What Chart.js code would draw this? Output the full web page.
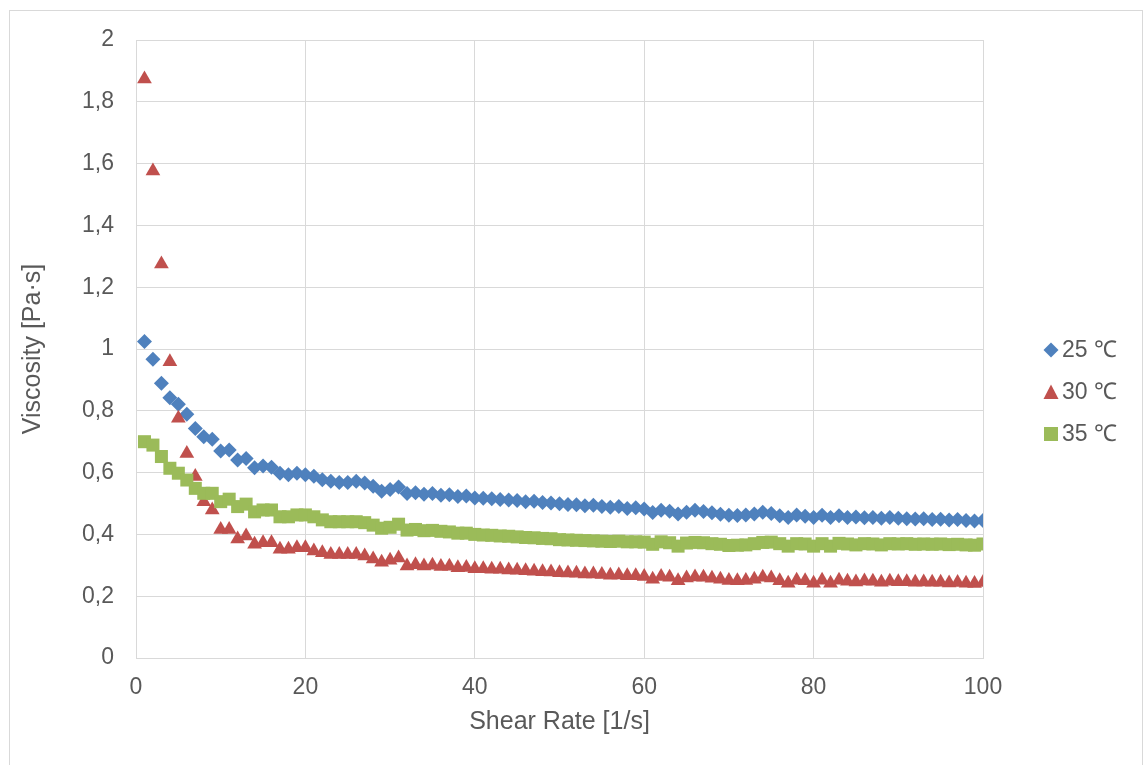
<!DOCTYPE html>
<html>
<head>
<meta charset="utf-8">
<script src="https://cdn.jsdelivr.net/npm/chart.js@4.4.0/dist/chart.umd.min.js"></script>
<style>
  html, body { margin: 0; padding: 0; background: #fff; }
  #wrap { position: relative; width: 1144px; height: 765px; }
</style>
</head>
<body>
<div id="wrap"><canvas id="myChart" width="1144" height="765"></canvas></div>
<script>
// Shear rate (x) values, 1/s
const shearRate = [
  1, 2, 3, 4, 5, 6, 7, 8, 9, 10,
  11, 12, 13, 14, 15, 16, 17, 18, 19, 20,
  21, 22, 23, 24, 25, 26, 27, 28, 29, 30,
  31, 32, 33, 34, 35, 36, 37, 38, 39, 40,
  41, 42, 43, 44, 45, 46, 47, 48, 49, 50,
  51, 52, 53, 54, 55, 56, 57, 58, 59, 60,
  61, 62, 63, 64, 65, 66, 67, 68, 69, 70,
  71, 72, 73, 74, 75, 76, 77, 78, 79, 80,
  81, 82, 83, 84, 85, 86, 87, 88, 89, 90,
  91, 92, 93, 94, 95, 96, 97, 98, 99, 100
];

// Viscosity, Pa·s
const visc25 = [
  1.024, 0.967, 0.889, 0.842, 0.821, 0.789, 0.743, 0.716, 0.708, 0.670,
  0.673, 0.641, 0.646, 0.616, 0.621, 0.617, 0.598, 0.593, 0.598, 0.593,
  0.588, 0.577, 0.572, 0.568, 0.568, 0.572, 0.566, 0.556, 0.540, 0.545,
  0.553, 0.532, 0.535, 0.530, 0.532, 0.527, 0.528, 0.523, 0.524, 0.518,
  0.517, 0.515, 0.513, 0.511, 0.510, 0.506, 0.507, 0.503, 0.502, 0.499,
  0.497, 0.496, 0.493, 0.494, 0.490, 0.488, 0.490, 0.484, 0.486, 0.482,
  0.471, 0.478, 0.475, 0.466, 0.472, 0.478, 0.474, 0.470, 0.465, 0.462,
  0.461, 0.463, 0.466, 0.472, 0.468, 0.460, 0.455, 0.463, 0.459, 0.455,
  0.462, 0.455, 0.460, 0.455, 0.456, 0.454, 0.455, 0.452, 0.455, 0.452,
  0.451, 0.450, 0.451, 0.448, 0.449, 0.447, 0.448, 0.445, 0.443, 0.445
];
const visc30 = [
  1.874, 1.576, 1.275, 0.959, 0.776, 0.662, 0.587, 0.506, 0.479, 0.416,
  0.416, 0.385, 0.395, 0.368, 0.373, 0.373, 0.352, 0.352, 0.357, 0.357,
  0.346, 0.341, 0.335, 0.335, 0.335, 0.335, 0.330, 0.320, 0.310, 0.316,
  0.324, 0.298, 0.302, 0.298, 0.300, 0.296, 0.297, 0.292, 0.293, 0.289,
  0.289, 0.287, 0.287, 0.285, 0.284, 0.282, 0.281, 0.279, 0.278, 0.276,
  0.275, 0.274, 0.272, 0.272, 0.270, 0.268, 0.269, 0.266, 0.266, 0.264,
  0.255, 0.264, 0.261, 0.250, 0.259, 0.262, 0.261, 0.258, 0.255, 0.251,
  0.250, 0.251, 0.255, 0.261, 0.259, 0.250, 0.242, 0.252, 0.250, 0.242,
  0.252, 0.242, 0.252, 0.248, 0.246, 0.249, 0.248, 0.245, 0.248, 0.247,
  0.247, 0.245, 0.246, 0.245, 0.245, 0.243, 0.244, 0.242, 0.241, 0.244
];
const visc35 = [
  0.700, 0.689, 0.652, 0.614, 0.598, 0.576, 0.549, 0.533, 0.533, 0.506,
  0.514, 0.490, 0.498, 0.473, 0.479, 0.479, 0.457, 0.457, 0.463, 0.463,
  0.457, 0.447, 0.441, 0.441, 0.441, 0.441, 0.438, 0.430, 0.420, 0.423,
  0.433, 0.414, 0.416, 0.412, 0.413, 0.410, 0.408, 0.404, 0.404, 0.400,
  0.398, 0.397, 0.395, 0.394, 0.392, 0.390, 0.389, 0.387, 0.386, 0.383,
  0.382, 0.381, 0.380, 0.379, 0.378, 0.377, 0.378, 0.376, 0.376, 0.375,
  0.368, 0.376, 0.373, 0.362, 0.372, 0.374, 0.373, 0.370, 0.368, 0.364,
  0.365, 0.366, 0.370, 0.374, 0.375, 0.370, 0.362, 0.370, 0.369, 0.362,
  0.370, 0.362, 0.371, 0.369, 0.366, 0.370, 0.369, 0.366, 0.370, 0.369,
  0.370, 0.368, 0.369, 0.368, 0.369, 0.367, 0.368, 0.366, 0.365, 0.369
];

const seriesLabels = ['25 ℃', '30 ℃', '35 ℃'];
const yTickLabels = ['0', '0,2', '0,4', '0,6', '0,8', '1', '1,2', '1,4', '1,6', '1,8', '2'];
const xTickLabels = ['0', '20', '40', '60', '80', '100'];

const textColor = '#595959';
const gridColor = '#D9D9D9';
const fontFamily = '"Liberation Sans", Arial, sans-serif';

function toPoints(ys) {
  return shearRate.map((x, i) => ({ x: x, y: ys[i] }));
}

// Cadre gris autour du graphique + légende à droite
const frameAndLegend = {
  id: 'frameAndLegend',
  beforeDraw(chart) {
    const ctx = chart.ctx;
    ctx.save();
    ctx.strokeStyle = gridColor;
    ctx.lineWidth = 1;
    ctx.strokeRect(9.5, 10.5, 1133, 800);
    ctx.restore();
  },
  afterDraw(chart) {
    const ctx = chart.ctx;
    const startY = 350;
    const step = 42;
    ctx.save();
    chart.data.datasets.forEach((ds, i) => {
      const cx = 1051;
      const cy = startY + i * step;
      ctx.fillStyle = ds.backgroundColor;
      ctx.beginPath();
      if (ds.pointStyle === 'rectRot') {
        ctx.moveTo(cx - 7.5, cy);
        ctx.lineTo(cx, cy - 7.5);
        ctx.lineTo(cx + 7.5, cy);
        ctx.lineTo(cx, cy + 7.5);
      } else if (ds.pointStyle === 'triangle') {
        ctx.moveTo(cx, cy - 7.5);
        ctx.lineTo(cx + 7.5, cy + 7);
        ctx.lineTo(cx - 7.5, cy + 7);
      } else {
        ctx.rect(cx - 7, cy - 7, 14, 14);
      }
      ctx.closePath();
      ctx.fill();
      ctx.fillStyle = textColor;
      ctx.font = '23px ' + fontFamily;
      ctx.textBaseline = 'middle';
      ctx.textAlign = 'left';
      ctx.fillText(ds.label, 1062, cy + 1);
    });
    ctx.restore();
  }
};

const ctx = document.getElementById('myChart').getContext('2d');
const myChart = new Chart(ctx, {
  type: 'scatter',
  data: {
    datasets: [
      {
        label: seriesLabels[0],
        data: toPoints(visc25),
        pointStyle: 'rectRot',
        pointRadius: 7.5,
        backgroundColor: '#4F81BD',
        borderWidth: 0,
        order: 3
      },
      {
        label: seriesLabels[1],
        data: toPoints(visc30),
        pointStyle: 'triangle',
        pointRadius: 8.5,
        backgroundColor: '#C0504D',
        borderWidth: 0,
        order: 2
      },
      {
        label: seriesLabels[2],
        data: toPoints(visc35),
        pointStyle: 'rect',
        pointRadius: 9.2,
        backgroundColor: '#9BBB59',
        borderWidth: 0,
        order: 1
      }
    ]
  },
  options: {
    responsive: false,
    animation: false,
    events: [],
    layout: {
      padding: { left: 10, right: 161, top: 40, bottom: 28 }
    },
    plugins: {
      legend: { display: false },
      tooltip: { enabled: false }
    },
    scales: {
      x: {
        type: 'linear',
        min: 0,
        max: 100,
        afterFit: scale => { scale.height = 79; },
        afterBuildTicks: scale => {
          scale.ticks = xTickLabels.map(t => ({ value: Number(t) }));
        },
        ticks: {
          padding: 16,
          color: textColor,
          font: { family: fontFamily, size: 23 },
          maxRotation: 0,
          callback: (v, i) => xTickLabels[i]
        },
        grid: { color: gridColor, lineWidth: 1, drawTicks: false },
        border: { color: gridColor },
        title: {
          display: true,
          text: 'Shear Rate [1/s]',
          color: textColor,
          font: { family: fontFamily, size: 25 },
          padding: { top: 0, bottom: 0 }
        }
      },
      y: {
        type: 'linear',
        min: 0,
        max: 2,
        afterFit: scale => { scale.width = 126; },
        afterBuildTicks: scale => {
          scale.ticks = yTickLabels.map(t => ({ value: Number(t.replace(',', '.')) }));
        },
        ticks: {
          padding: 22,
          color: textColor,
          font: { family: fontFamily, size: 23 },
          callback: (v, i) => yTickLabels[i]
        },
        grid: { color: gridColor, lineWidth: 1, drawTicks: false },
        border: { color: gridColor },
        title: {
          display: true,
          text: 'Viscosity [Pa·s]',
          color: textColor,
          font: { family: fontFamily, size: 25 },
          padding: { top: 8, bottom: 0 }
        }
      }
    }
  },
  plugins: [frameAndLegend]
});
</script>
</body>
</html>
